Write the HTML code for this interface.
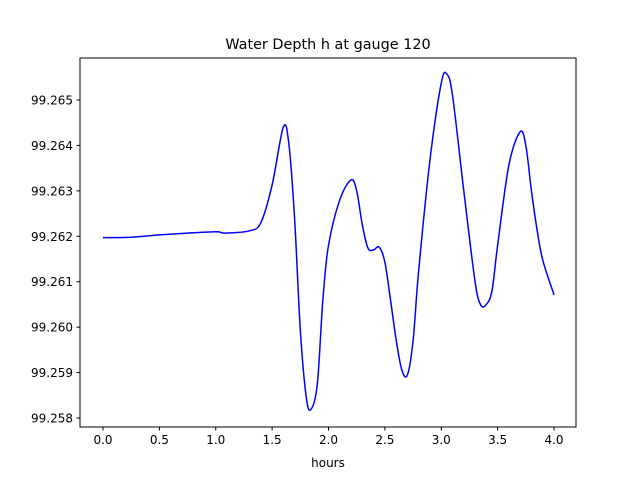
<!DOCTYPE html>
<html><head><meta charset="utf-8"><style>
body{margin:0;background:#fff;}
svg text{font-family:"DejaVu Sans","Liberation Sans",sans-serif;font-size:12px;fill:#000;}
</style></head><body>
<svg id="chart" width="640" height="480" xmlns="http://www.w3.org/2000/svg">
<rect width="640" height="480" fill="#fff"/>
<text x="328" y="49" text-anchor="middle" style="font-size:14.4px">Water Depth h at gauge 120</text>
<g id="plot"></g>
<text x="328" y="467" text-anchor="middle">hours</text>
</svg>
<script>
const times=[0,0.25,0.5,0.75,1.0,1.05,1.1,1.3,1.4,1.5,1.6,1.65,1.7,1.75,1.8,1.84,1.9,1.95,2.0,2.1,2.2,2.25,2.3,2.35,2.4,2.45,2.5,2.55,2.6,2.65,2.7,2.75,2.8,2.9,3.0,3.05,3.1,3.2,3.3,3.35,3.4,3.45,3.5,3.6,3.7,3.75,3.8,3.85,3.9,4.0];
const depth=[99.26197,99.26198,99.26203,99.26207,99.2621,99.26208,99.26207,99.26212,99.2623,99.26313,99.26441,99.2640,99.26236,99.25994,99.25851,99.25818,99.25873,99.2606,99.2618,99.2628,99.26324,99.2630,99.26225,99.26174,99.2617,99.26176,99.26143,99.2606,99.25972,99.25906,99.25895,99.2597,99.26125,99.26368,99.26537,99.26557,99.2651,99.2630,99.2610,99.26049,99.2605,99.2608,99.2618,99.26357,99.2643,99.2640,99.2630,99.26214,99.26148,99.26071];
const xTicks=[0,0.5,1,1.5,2,2.5,3,3.5,4];
const xTickLabels=["0.0","0.5","1.0","1.5","2.0","2.5","3.0","3.5","4.0"];
const yTicks=[99.258,99.259,99.26,99.261,99.262,99.263,99.264,99.265];
const yTickLabels=["99.258","99.259","99.260","99.261","99.262","99.263","99.264","99.265"];
const L=80,R=576,T=58,B=427;
const X=v=>103+v*112.75;
const Y=v=>418-(v-99.258)*45430;
const NS="http://www.w3.org/2000/svg";
const g=document.getElementById('plot');
function mk(t,a,p){const e=document.createElementNS(NS,t);for(const k in a)e.setAttribute(k,a[k]);(p||g).appendChild(e);return e;}
// line
let pts=times.map((t,i)=>[X(t),Y(depth[i])]);
let d="M"+pts[0][0]+","+pts[0][1];
for(let i=0;i<pts.length-1;i++){const p0=pts[Math.max(0,i-1)],p1=pts[i],p2=pts[i+1],p3=pts[Math.min(pts.length-1,i+2)];
d+=" C"+(p1[0]+(p2[0]-p0[0])/6)+","+(p1[1]+(p2[1]-p0[1])/6)+" "+(p2[0]-(p3[0]-p1[0])/6)+","+(p2[1]-(p3[1]-p1[1])/6)+" "+p2[0]+","+p2[1];}
const line=mk('path',{d:d,fill:'none',stroke:'#0000ff','stroke-width':1.5});


const fr=mk('rect',{x:L,y:T,width:R-L,height:B-T,fill:'none',stroke:'#000','stroke-width':1});


xTicks.forEach((v,i)=>{const x=X(v);
const tk=mk('line',{x1:x,x2:x,y1:B,y2:B+3.5,stroke:'#000'});


const t=mk('text',{x:x,y:B+17,'text-anchor':'middle'});t.textContent=xTickLabels[i];

});
yTicks.forEach((v,i)=>{const y=Y(v);
const tk=mk('line',{x1:L-3.5,x2:L,y1:y,y2:y,stroke:'#000'});


const t=mk('text',{x:L-7,y:y+4.5,'text-anchor':'end'});t.textContent=yTickLabels[i];

});
</script>
</body></html>
